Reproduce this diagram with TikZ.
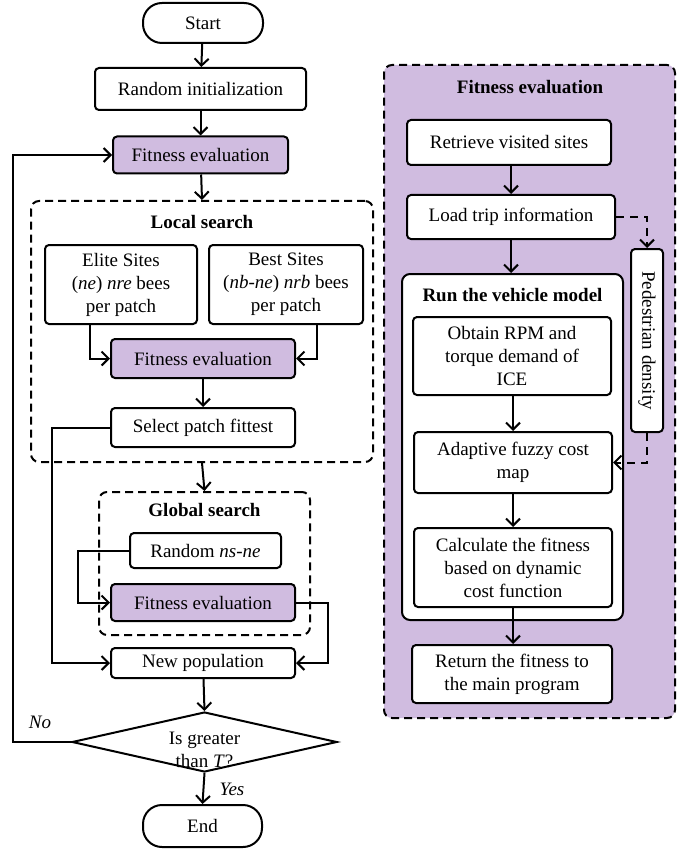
\documentclass[tikz,border=0pt]{standalone}
\usepackage{fontspec}
\setmainfont{Liberation Serif}
\usetikzlibrary{arrows.meta,shapes.geometric}
\definecolor{lilac}{RGB}{208,188,224}

\begin{document}
\begin{tikzpicture}[x=1pt, y=-1pt, font=\fontsize{19}{23}\selectfont]
    \tikzset{
        flowbox/.style={
            draw, line width=2pt, rounded corners=4pt, fill=white,
            align=center, inner sep=0pt,
        },
        purplebox/.style={flowbox, fill=lilac},
        terminal/.style={flowbox, rounded corners=19pt},
        groupbox/.style={
            draw, line width=2pt, dash pattern=on 8pt off 5pt,
            rounded corners=8pt, inner sep=0pt,
        },
        flow/.style={
            ->, line width=2pt,
            >={Straight Barb[length=7pt, width=14pt, line width=2pt]},
        },
        dashflow/.style={flow, dash pattern=on 8pt off 6pt},
    }
    \useasboundingbox (0,0) rectangle (692,850);

    % Main loop
    \node[terminal, minimum width=120pt, minimum height=40pt] (start) at (203,23) {Start};
    \node[flowbox, minimum width=211pt, minimum height=42pt] (init) at (200.5,89) {Random initialization};
    \node[purplebox, minimum width=175pt, minimum height=37pt] (fit1) at (200.5,155) {Fitness evaluation};

    % Local search
    \node[groupbox, minimum width=342pt, minimum height=261pt] (local) at (202,331.5) {};
    \node[font=\fontsize{19}{23}\selectfont\bfseries] (localtitle) at (202,222) {Local search};
    \node[flowbox, minimum width=152pt, minimum height=79pt] (elite) at (121,284.5)
        {Elite Sites\\(\textit{ne}) \textit{nre} bees\\per patch};
    \node[flowbox, minimum width=154pt, minimum height=79pt] (best) at (286,284.5)
        {Best Sites\\(\textit{nb}-\textit{ne}) \textit{nrb} bees\\per patch};
    \node[purplebox, minimum width=184pt, minimum height=39pt] (fit2) at (203,358.5) {Fitness evaluation};
    \node[flowbox, minimum width=184pt, minimum height=39pt] (select) at (203,427.5) {Select patch fittest};

    % Global search
    \node[groupbox, minimum width=211pt, minimum height=143pt] (global) at (204.5,563.5) {};
    \node[font=\fontsize{19}{23}\selectfont\bfseries] (globaltitle) at (204.5,510) {Global search};
    \node[flowbox, minimum width=151pt, minimum height=35pt] (randns) at (205.5,550.5)
        {Random \textit{ns}-\textit{ne}};
    \node[purplebox, minimum width=184pt, minimum height=37pt] (fit3) at (203,602.5) {Fitness evaluation};

    \node[flowbox, minimum width=184pt, minimum height=30pt] (newpop) at (203,663) {New population};
    \node[draw, diamond, line width=2pt, fill=white, inner sep=0pt,
          minimum width=265pt, minimum height=60pt,
          label={[align=center, yshift=-8pt]center:Is greater\\than \textit{T}?}] (test) at (204.5,742) {};
    \node[terminal, minimum width=119pt, minimum height=42pt] (stop) at (202.5,826) {End};
    \node[font=\fontsize{19}{23}\selectfont\itshape] (nolabel) at (40,722) {No};
    \node[font=\fontsize{19}{23}\selectfont\itshape] (yeslabel) at (232,789) {Yes};

    % Fitness evaluation panel
    \node[groupbox, fill=lilac, minimum width=291pt, minimum height=653pt] (panel) at (529.5,391.5) {};
    \node[font=\fontsize{19}{23}\selectfont\bfseries] (paneltitle) at (530,87) {Fitness evaluation};
    \node[flowbox, minimum width=204pt, minimum height=45pt] (retrieve) at (509,142.5) {Retrieve visited sites};
    \node[flowbox, minimum width=208pt, minimum height=44pt] (load) at (511,217) {Load trip information};
    \node[flowbox, rounded corners=8pt, minimum width=221pt, minimum height=346pt] (vehicle) at (512.5,447) {};
    \node[font=\fontsize{19}{23}\selectfont\bfseries] (vehicletitle) at (512.5,295) {Run the vehicle model};
    \node[flowbox, minimum width=198pt, minimum height=78pt] (obtain) at (512,356)
        {Obtain RPM and\\torque demand of\\ICE};
    \node[flowbox, minimum width=198pt, minimum height=61pt] (fuzzy) at (513,462.5)
        {Adaptive fuzzy cost\\map};
    \node[flowbox, minimum width=198pt, minimum height=79pt] (calc) at (513,567.5)
        {Calculate the fitness\\based on dynamic\\cost function};
    \node[flowbox, minimum width=200pt, minimum height=58pt] (back) at (512,674)
        {Return the fitness to\\the main program};
    \node[flowbox, rotate=-90, minimum width=183pt, minimum height=32pt] (density) at (647,340.5)
        {Pedestrian density};

    % Arrows
    \draw[flow] (start) -- (init);
    \draw[flow] (init) -- (fit1);
    \draw[flow] (fit1) -- (local.north);
    \draw[flow] (elite.south -| 90,0) |- (fit2.west);
    \draw[flow] (best.south -| 317,0) |- (fit2.east);
    \draw[flow] (fit2) -- (select);
    \draw[flow] (local.south) -- (global.north);
    \draw[flow] (randns.west) -- ++(-51,0) |- (fit3.west);
    \draw[flow] (select.west) -- ++(-58,0) |- (newpop.west);
    \draw[flow] (fit3.east) -- ++(32,0) |- (newpop.east);
    \draw[flow] (newpop) -- (test.north);
    \draw[flow] (test.west) -- ++(-58,0) |- (fit1.west);
    \draw[flow] (test.south) -- (stop.north);

    \draw[flow] (retrieve.south -| load.north) -- (load.north);
    \draw[flow] (load.south) -- (load.south |- vehicle.north);
    \draw[flow] (obtain.south -| fuzzy.north) -- (fuzzy.north);
    \draw[flow] (fuzzy) -- (calc);
    \draw[flow] (calc.south) -- (calc.south |- back.north);
    \draw[dashflow] (load.east) -| (density.west);
    \draw[dashflow] (density.east) |- (fuzzy.east);
\end{tikzpicture}
\end{document}
